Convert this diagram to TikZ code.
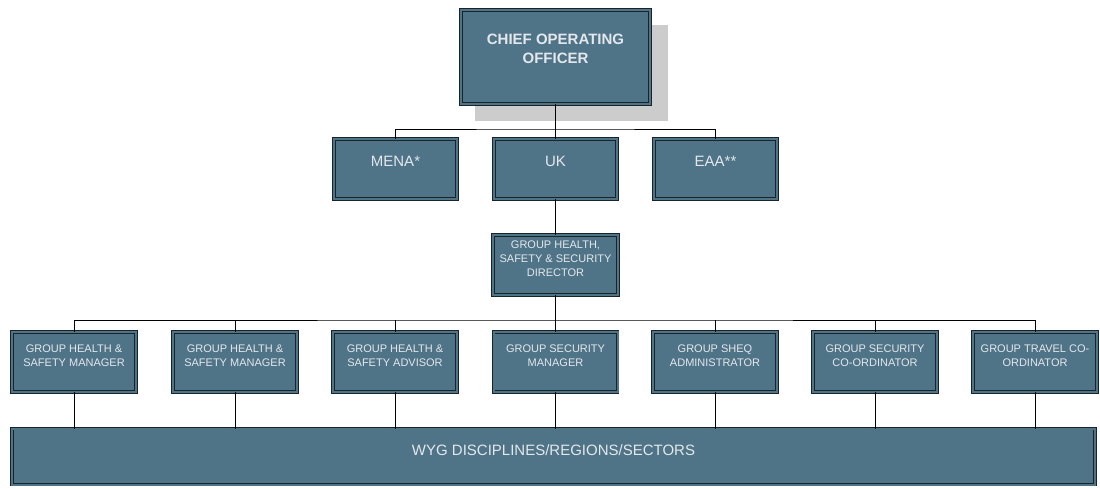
\documentclass[tikz,border=0pt]{standalone}
\usepackage{fontspec}
\setmainfont{Liberation Sans}
\definecolor{boxblue}{RGB}{79,115,135}
\definecolor{boxline}{RGB}{25,35,42}
\definecolor{boxtext}{RGB}{228,232,236}
\definecolor{shadowgray}{RGB}{204,204,204}
\begin{document}
\begin{tikzpicture}[x=1pt,y=-1pt,
  orgbox/.style={rectangle, draw=boxline, line width=0.8pt, double=boxblue,
    double distance=2pt, fill=boxblue, inner sep=0pt, outer sep=0pt,
    text=boxtext, align=center},
  bigtext/.style={font=\fontsize{15}{17}\selectfont},
  smalltext/.style={font=\fontsize{11}{14}\selectfont},
  label/.style={text=boxtext, align=center, inner sep=0pt, anchor=north},
  conn/.style={draw=black, line width=0.8pt}]
\useasboundingbox (0,0) rectangle (1100,488);
% shadow
\fill[shadowgray] (475,25) rectangle (668,121);
% top
\node[orgbox, minimum width=189pt, minimum height=94pt] (coo) at (555.5,57) {};
\node[label, font=\bfseries\fontsize{15}{19}\selectfont] at (555.5,33.5) {CHIEF OPERATING\\OFFICER};
% regions
\node[orgbox, minimum width=123pt, minimum height=60pt] (mena) at (395.5,169) {};
\node[orgbox, minimum width=123pt, minimum height=60pt] (uk) at (555.5,169) {};
\node[orgbox, minimum width=123pt, minimum height=60pt] (eaa) at (715.5,169) {};
\node[label, bigtext] at (395.5,156) {MENA*};
\node[label, bigtext] at (555.5,156) {UK};
\node[label, bigtext] at (715.5,156) {EAA**};
% director
\node[orgbox, minimum width=125pt, minimum height=60pt] (dir) at (555.5,265) {};
\node[label, smalltext] at (555.5,241) {GROUP HEALTH,\\SAFETY \& SECURITY\\DIRECTOR};
% row
\foreach \n/\x/\t in {r1/74/{GROUP HEALTH \&\\SAFETY MANAGER},
                      r2/235/{GROUP HEALTH \&\\SAFETY MANAGER},
                      r3/395/{GROUP HEALTH \&\\SAFETY ADVISOR},
                      r4/555.5/{GROUP SECURITY\\MANAGER},
                      r5/715/{GROUP SHEQ\\ADMINISTRATOR},
                      r6/875/{GROUP SECURITY\\CO-ORDINATOR},
                      r7/1035/{GROUP TRAVEL CO-\\ORDINATOR}}{
  \node[orgbox, minimum width=124pt, minimum height=60pt] (\n) at (\x,362) {};
  \node[label, smalltext] at (\x,344.5) {\t};
}
% bottom
\node[orgbox, minimum width=1083pt, minimum height=56pt] (wyg) at (553.5,456.5) {};
\node[label, bigtext] at (553.5,444) {WYG DISCIPLINES/REGIONS/SECTORS};
% connectors
\coordinate (bar1) at (555.5,129);
\coordinate (bar2) at (555.5,320);
\draw[conn] (coo.south) -- (uk.north);
\draw[conn] (mena.north) |- (bar1) -| (eaa.north);
\draw[conn] (uk.south) -- (dir.north);
\draw[conn] (dir.south) -- (r4.north);
\draw[conn] (r1.north) |- (bar2) -| (r7.north);
\foreach \n in {r2,r3,r5,r6}{
  \draw[conn] (\n.north) -- (\n.north |- bar2);
}
\foreach \n in {r1,r2,r3,r4,r5,r6,r7}{
  \draw[conn] (\n.south) -- (\n.south |- wyg.north);
}
\end{tikzpicture}
\end{document}
